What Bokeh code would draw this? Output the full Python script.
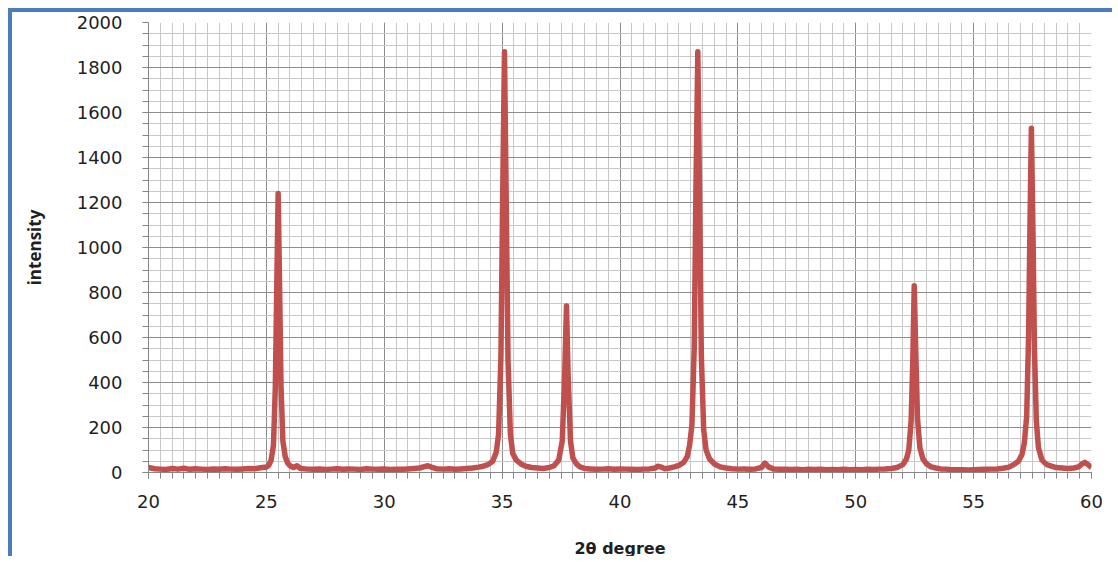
from bokeh.plotting import figure
from bokeh.models import Range1d, SingleIntervalTicker
from bokeh.embed import file_html
from bokeh.resources import INLINE

# ---- data ----
bg1_x = [20.0, 20.25, 20.5, 20.75, 21.0, 21.25, 21.5, 21.75, 22.0, 22.25, 22.5, 22.75, 23.0, 23.25, 23.5, 23.75, 24.0, 24.25, 24.5, 24.75]
bg1_y = [22, 17, 15, 13, 18, 15, 19, 14, 17, 15, 13, 16, 14, 17, 15, 14, 16, 18, 17, 21]

pk1_x = [25.0, 25.1, 25.2, 25.3, 25.38, 25.44, 25.5, 25.56, 25.62, 25.7, 25.8, 25.9, 26.0, 26.15, 26.3, 26.45]
pk1_y = [24, 32, 55, 120, 380, 820, 1240, 830, 390, 140, 70, 42, 30, 22, 30, 18]

bg2_x = [26.75, 27.0, 27.25, 27.5, 27.75, 28.0, 28.25, 28.5, 28.75, 29.0, 29.25, 29.5, 29.75, 30.0, 30.25, 30.5, 30.75, 31.0, 31.25, 31.5, 31.7, 31.85, 32.0, 32.2, 32.5, 32.75, 33.0, 33.25, 33.5, 33.75, 34.0, 34.2, 34.4]
bg2_y = [15, 14, 16, 13, 15, 17, 14, 16, 15, 13, 17, 15, 14, 16, 13, 15, 14, 16, 18, 20, 26, 30, 24, 17, 15, 17, 14, 16, 18, 20, 24, 28, 35]

pk2_x = [34.6, 34.75, 34.85, 34.95, 35.02, 35.1, 35.18, 35.25, 35.35, 35.45, 35.6, 35.8, 36.0, 36.25, 36.5, 36.75, 37.0, 37.2, 37.4]
pk2_y = [50, 90, 170, 520, 1200, 1870, 1150, 500, 170, 85, 55, 38, 28, 22, 20, 18, 22, 30, 55]

pk3_x = [37.55, 37.65, 37.73, 37.8, 37.9, 38.0, 38.15, 38.3, 38.5]
pk3_y = [140, 420, 740, 430, 140, 65, 38, 25, 18]

bg3_x = [38.75, 39.0, 39.25, 39.5, 39.75, 40.0, 40.25, 40.5, 40.75, 41.0, 41.25, 41.5, 41.6, 41.75, 41.9, 42.1, 42.3, 42.5, 42.7]
bg3_y = [16, 14, 15, 17, 14, 16, 15, 14, 13, 15, 16, 20, 28, 24, 17, 20, 25, 32, 45]

pk4_x = [42.85, 42.95, 43.05, 43.15, 43.22, 43.3, 43.38, 43.45, 43.55, 43.65, 43.8, 44.0, 44.25]
pk4_y = [70, 120, 210, 560, 1250, 1870, 1200, 520, 190, 100, 60, 38, 25]

bg4_x = [44.5, 44.75, 45.0, 45.25, 45.5, 45.75, 46.0, 46.15, 46.3, 46.5, 46.75, 47.0, 47.25, 47.5, 47.75, 48.0, 48.25, 48.5, 48.75, 49.0, 49.25, 49.5, 49.75, 50.0, 50.25, 50.5, 50.75, 51.0, 51.25, 51.5, 51.75, 52.0, 52.15]
bg4_y = [20, 17, 15, 16, 14, 16, 22, 42, 25, 16, 14, 15, 13, 14, 12, 14, 13, 15, 12, 13, 12, 14, 12, 13, 12, 14, 13, 15, 16, 18, 22, 35, 60]

pk5_x = [52.25, 52.35, 52.42, 52.48, 52.55, 52.62, 52.72, 52.85, 53.0, 53.2, 53.4]
pk5_y = [100, 230, 500, 830, 520, 240, 110, 60, 38, 25, 20]

bg5_x = [53.6, 53.8, 54.0, 54.25, 54.5, 54.75, 55.0, 55.25, 55.5, 55.75, 56.0, 56.25, 56.5, 56.7, 56.9, 57.05, 57.15]
bg5_y = [16, 15, 13, 12, 12, 11, 12, 13, 14, 15, 16, 19, 24, 35, 50, 80, 130]

pk6_x = [57.25, 57.33, 57.39, 57.45, 57.52, 57.58, 57.66, 57.75, 57.9, 58.1, 58.3, 58.5, 58.75, 59.0, 59.25, 59.45, 59.6, 59.72, 59.85, 60.0]
pk6_y = [250, 600, 1100, 1530, 1050, 550, 230, 110, 55, 35, 28, 22, 20, 18, 20, 25, 38, 45, 35, 22]

two_theta = bg1_x + pk1_x + bg2_x + pk2_x + pk3_x + bg3_x + pk4_x + bg4_x + pk5_x + bg5_x + pk6_x
intensity = bg1_y + pk1_y + bg2_y + pk2_y + pk3_y + bg3_y + pk4_y + bg4_y + pk5_y + bg5_y + pk6_y

x_label = "2θ degree"
y_label = "intensity"

# ---- figure ----
p = figure(width=1104, height=548,
           x_range=Range1d(20, 60), y_range=Range1d(0, 2000),
           output_backend="svg", toolbar_location=None,
           min_border_left=136, min_border_right=25,
           min_border_top=10, min_border_bottom=88)
p.styles = {"border-top": "4px solid #4A7EBB", "border-left": "4px solid #4A7EBB",
            "margin-left": "8px", "margin-top": "8px"}
p.background_fill_color = "white"
p.border_fill_color = "white"
p.outline_line_color = None

p.line(two_theta, intensity, line_color="#C0504D", line_width=5.5, line_join="round")

p.xaxis.ticker = SingleIntervalTicker(interval=5, num_minor_ticks=10)
p.yaxis.ticker = SingleIntervalTicker(interval=200, num_minor_ticks=4)

for g in (p.xgrid, p.ygrid):
    g.grid_line_color = "#8C8C8C"
    g.grid_line_width = 1
    g.minor_grid_line_color = "#C8C8C8"
    g.minor_grid_line_width = 1

for ax in (p.xaxis, p.yaxis):
    ax.axis_line_color = "#868686"
    ax.major_tick_line_color = "#868686"
    ax.minor_tick_line_color = "#868686"
    ax.major_tick_in = 0
    ax.minor_tick_in = 0
    ax.major_tick_out = 6
    ax.minor_tick_out = 6
    ax.major_label_text_font = "DejaVu Sans"
    ax.major_label_text_font_size = "18px"
    ax.major_label_text_color = "#1F1F1F"
    ax.axis_label_text_font_style = "bold"
    ax.axis_label_text_color = "#1F1F1F"

p.xaxis.major_label_standoff = 16
p.yaxis.major_label_standoff = 20

p.xaxis.axis_label = x_label
p.xaxis.axis_label_text_font = "DejaVu Sans"
p.xaxis.axis_label_text_font_size = "16px"
p.xaxis.axis_label_standoff = 28

p.yaxis.axis_label = y_label
p.yaxis.axis_label_text_font = "Open Sans"
p.yaxis.axis_label_text_font_size = "17px"
p.yaxis.axis_label_standoff = 28

open("out.html", "w").write(file_html(p, INLINE))
